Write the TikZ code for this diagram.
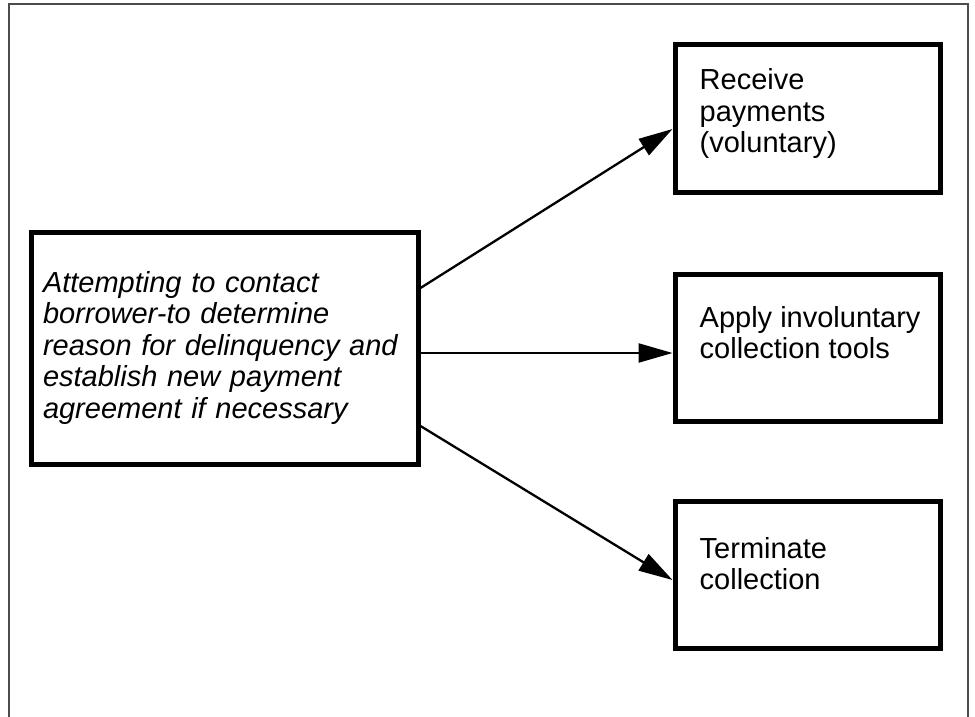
\documentclass[tikz,border=0pt]{standalone}
\usepackage{fontspec}
\setmainfont{Liberation Sans}
\usetikzlibrary{arrows.meta}

\begin{document}
\begin{tikzpicture}[x=1pt, y=-1pt,
    every node/.style = {font=\fontsize{29}{31.5}\selectfont},
    stepbox/.style = {shape=rectangle, draw, line width=5pt, inner sep=0pt,
      minimum width=265pt, minimum height=147pt},
    steptext/.style = {anchor=base west, align=left, inner sep=0pt},
    link/.style = {line width=2.3pt, -{Triangle[length=34pt, width=19pt]}}]
  \useasboundingbox (0,0) rectangle (975,717);
  \draw[line width=2pt, black!70] (8.5,717) -- (8.5,4) -- (968,4) -- (968,717);
  % left box
  \node[draw, line width=5pt, inner xsep=12pt, inner ysep=0pt,
        text width=363pt, minimum height=232pt, align=left,
        font=\fontsize{29}{31.5}\selectfont\itshape] (contact) at (224.5,348)
    {Attempting to contact\\borrower-to determine\\reason for delinquency and\\establish new payment\\agreement if necessary};
  % outcomes (base = last line)
  \node[stepbox] (receive) at (807.5,118.5) {};
  \node[stepbox] (apply) at (807.5,348) {};
  \node[stepbox] (terminate) at (807.5,575) {};
  \node[steptext] at ([shift={(27,110)}]receive.north west) {Receive\\payments\\(voluntary)};
  \node[steptext] at ([shift={(27,86.5)}]apply.north west) {Apply involuntary\\collection tools};
  \node[steptext] at ([shift={(27,90.5)}]terminate.north west) {Terminate\\collection};
  \draw[link] ([yshift=60pt]contact.east) -- ([yshift=-10.5pt]receive.west);
  \draw[link] ([yshift=-5pt]contact.east) -- ([yshift=-5pt]apply.west);
  \draw[link] ([yshift=-78pt]contact.east) -- ([yshift=-5pt]terminate.west);
\end{tikzpicture}
\end{document}
